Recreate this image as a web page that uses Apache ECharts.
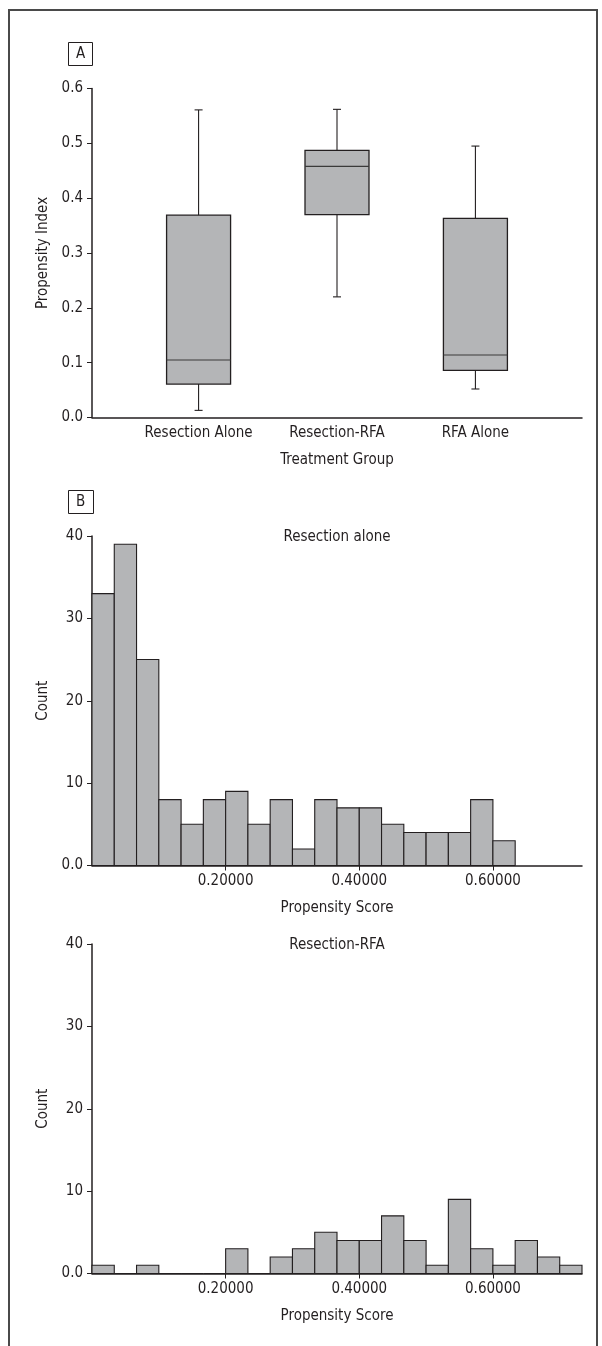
<!DOCTYPE html>
<html>
<head>
<meta charset="utf-8">
<script src="https://cdn.jsdelivr.net/npm/echarts@6/dist/echarts.min.js"></script>
<style>
html,body{margin:0;padding:0;background:#fff;}
#chart{width:602px;height:1346px;}
</style>
</head>
<body>
<div id="chart"></div>
<script>
// ---- Panel A: box plot data ----
const groups = ['Resection Alone', 'Resection-RFA', 'RFA Alone'];
const boxMin = [0.013, 0.220, 0.052];
const boxQ1 = [0.061, 0.370, 0.086];
const boxMedian = [0.105, 0.458, 0.114];
const boxQ3 = [0.369, 0.487, 0.363];
const boxMax = [0.561, 0.562, 0.495];

// ---- Panel B: histograms ----
const binWidth = 1 / 30;
const resectionAloneCounts = [33, 39, 25, 8, 5, 8, 9, 5, 8, 2, 8, 7, 7, 5, 4, 4, 4, 8, 3];
const resectionRFACounts = [1, 0, 1, 0, 0, 0, 3, 0, 2, 3, 5, 4, 4, 7, 4, 1, 9, 3, 1, 4, 2, 1];
const scoreTicks = [0.2, 0.4, 0.6];

const FONT = "'Liberation Sans Narrow', 'DejaVu Sans Condensed', 'Arial Narrow', sans-serif";
const INK = '#231f20';
const FILL = '#b4b5b7';
const FS = 15;

const chart = echarts.init(document.getElementById('chart'), null, {renderer: 'canvas'});

function histData(counts) {
  return counts.map((c, i) => [i * binWidth, c]);
}

function histRender(params, api) {
  const x0 = api.value(0);
  const c = api.value(1);
  const p0 = api.coord([x0, c]);
  const p1 = api.coord([x0 + binWidth, 0]);
  return {
    type: 'rect',
    shape: {x: p0[0], y: p0[1], width: p1[0] - p0[0], height: p1[1] - p0[1]},
    style: {fill: FILL, stroke: INK, lineWidth: 1.1}
  };
}

function boxRender(params, api) {
  const x = api.value(0);
  const pMin = api.coord([x, api.value(1)]);
  const pQ1 = api.coord([x, api.value(2)]);
  const pMed = api.coord([x, api.value(3)]);
  const pQ3 = api.coord([x, api.value(4)]);
  const pMax = api.coord([x, api.value(5)]);
  const cx = pMin[0];
  const hw = 32, cap = 4;
  const lineStyle = {stroke: INK, lineWidth: 1.1};
  return {
    type: 'group',
    children: [
      {type: 'line', shape: {x1: cx, y1: pMax[1], x2: cx, y2: pQ3[1]}, style: lineStyle},
      {type: 'line', shape: {x1: cx, y1: pQ1[1], x2: cx, y2: pMin[1]}, style: lineStyle},
      {type: 'line', shape: {x1: cx - cap, y1: pMax[1], x2: cx + cap, y2: pMax[1]}, style: lineStyle},
      {type: 'line', shape: {x1: cx - cap, y1: pMin[1], x2: cx + cap, y2: pMin[1]}, style: lineStyle},
      {type: 'rect', shape: {x: cx - hw, y: pQ3[1], width: hw * 2, height: pQ1[1] - pQ3[1]},
        style: {fill: FILL, stroke: INK, lineWidth: 1.3}},
      {type: 'line', shape: {x1: cx - hw, y1: pMed[1], x2: cx + hw, y2: pMed[1]}, style: {stroke: '#3a3a3a', lineWidth: 1.1}}
    ]
  };
}

const axisLineStyle = {show: true, lineStyle: {color: INK, width: 1.5}};
const labelStyle = {color: INK, fontFamily: FONT, fontSize: FS};

function countAxis(gridIndex) {
  return {
    type: 'value', gridIndex: gridIndex, min: 0, max: 40, interval: 10,
    name: 'Count', nameLocation: 'middle', nameGap: 34,
    nameTextStyle: labelStyle,
    axisLine: axisLineStyle,
    axisTick: {show: true, length: 5, lineStyle: {color: INK, width: 1}},
    axisLabel: Object.assign({margin: 9, formatter: v => v === 0 ? '0.0' : String(v)}, labelStyle),
    splitLine: {show: false}
  };
}
function scoreAxis(gridIndex) {
  return {
    type: 'value', gridIndex: gridIndex, min: 0, max: 22 * binWidth,
    name: 'Propensity Score', nameLocation: 'middle', nameGap: 35,
    nameTextStyle: labelStyle,
    axisLine: axisLineStyle,
    axisTick: {show: true, length: 5, customValues: scoreTicks, lineStyle: {color: INK, width: 1}},
    axisLabel: Object.assign({margin: 8, customValues: scoreTicks, formatter: v => v.toFixed(5)}, labelStyle),
    splitLine: {show: false}
  };
}

const option = {
  backgroundColor: '#fff',
  animation: false,
  textStyle: {fontFamily: FONT},
  graphic: [
    {type: 'rect', silent: true, shape: {x: 9, y: 10, width: 588, height: 1400},
      style: {fill: 'none', stroke: '#4a4a4a', lineWidth: 2}}
  ],
  title: [
    {text: 'A', left: 68, top: 42, borderWidth: 1, borderColor: INK, padding: [5, 8, 4, 8],
      textStyle: {color: INK, fontFamily: FONT, fontSize: FS, fontWeight: 'normal'}},
    {text: 'B', left: 68, top: 490, borderWidth: 1, borderColor: INK, padding: [5, 8, 4, 8],
      textStyle: {color: INK, fontFamily: FONT, fontSize: FS, fontWeight: 'normal'}},
    {text: 'Resection alone', left: 337, textAlign: 'center', top: 530, padding: 0,
      textStyle: {color: INK, fontFamily: FONT, fontSize: FS, fontWeight: 'normal'}},
    {text: 'Resection-RFA', left: 337, textAlign: 'center', top: 938, padding: 0,
      textStyle: {color: INK, fontFamily: FONT, fontSize: FS, fontWeight: 'normal'}}
  ],
  grid: [
    {left: 92, width: 490, top: 88.5, height: 329},
    {left: 92, width: 490, top: 536, height: 329.5},
    {left: 92, width: 490, top: 944, height: 329.5}
  ],
  xAxis: [
    {
      type: 'value', gridIndex: 0, min: 0.23, max: 3.77,
      name: 'Treatment Group', nameLocation: 'middle', nameGap: 35,
      nameTextStyle: labelStyle,
      axisLine: axisLineStyle,
      axisTick: {show: false},
      axisLabel: Object.assign({margin: 8, customValues: [1, 2, 3], formatter: v => groups[Math.round(v) - 1]}, labelStyle),
      splitLine: {show: false}
    },
    scoreAxis(1),
    scoreAxis(2)
  ],
  yAxis: [
    {
      type: 'value', gridIndex: 0, min: 0, max: 0.6, interval: 0.1,
      name: 'Propensity Index', nameLocation: 'middle', nameGap: 34,
      nameTextStyle: labelStyle,
      axisLine: axisLineStyle,
      axisTick: {show: true, length: 5, lineStyle: {color: INK, width: 1}},
      axisLabel: Object.assign({margin: 9, formatter: v => v.toFixed(1)}, labelStyle),
      splitLine: {show: false}
    },
    countAxis(1),
    countAxis(2)
  ],
  series: [
    {
      type: 'custom', xAxisIndex: 0, yAxisIndex: 0,
      renderItem: boxRender,
      encode: {x: 0, y: [1, 2, 3, 4, 5]},
      data: groups.map((g, i) => [i + 1, boxMin[i], boxQ1[i], boxMedian[i], boxQ3[i], boxMax[i]])
    },
    {
      type: 'custom', xAxisIndex: 1, yAxisIndex: 1,
      renderItem: histRender, encode: {x: 0, y: 1},
      data: histData(resectionAloneCounts)
    },
    {
      type: 'custom', xAxisIndex: 2, yAxisIndex: 2,
      renderItem: histRender, encode: {x: 0, y: 1},
      data: histData(resectionRFACounts)
    }
  ]
};
chart.setOption(option);
</script>
</body>
</html>
